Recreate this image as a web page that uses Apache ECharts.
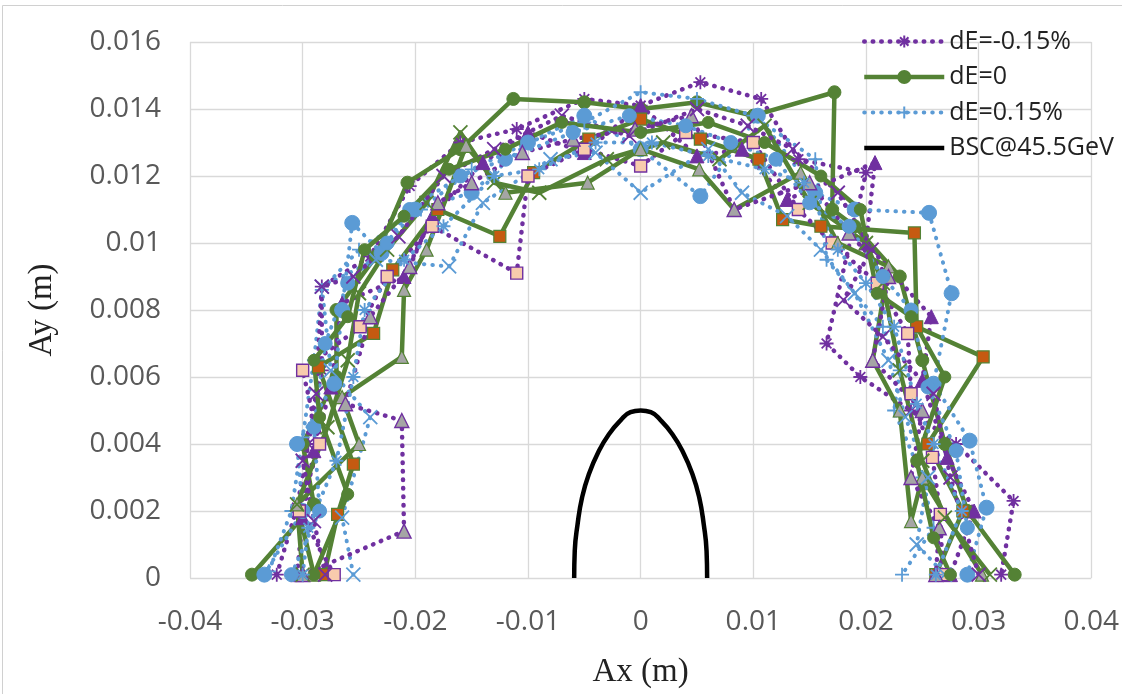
<!DOCTYPE html>
<html>
<head>
<meta charset="utf-8">
<script src="https://cdn.jsdelivr.net/npm/echarts@6/dist/echarts.min.js"></script>
<style>html,body{margin:0;padding:0;background:#fff}#c{width:1122px;height:694px}</style>
</head>
<body>
<div id="c"></div>
<script>
// ---- data (Ax, Ay in metres) ----
const xTicks = [-0.04, -0.03, -0.02, -0.01, 0, 0.01, 0.02, 0.03, 0.04];
const yTicks = [0, 0.002, 0.004, 0.006, 0.008, 0.01, 0.012, 0.014, 0.016];
const legendNames = ['dE=-0.15%', 'dE=0', 'dE=0.15%', 'BSC@45.5GeV'];

// dE = -0.15 %
const dEm_a = [[-0.0323,0.0001],[-0.0305,0.0021],[-0.0295,0.0040],[-0.0283,0.0062],[-0.0283,0.0087],[-0.0240,0.0096],[-0.0205,0.0117],[-0.0160,0.0130],[-0.0110,0.0134],[-0.0050,0.0143],[0,0.0141],[0.0053,0.0148],[0.0107,0.0143],[0.0140,0.0125],[0.0200,0.0121],[0.0165,0.0070],[0.0195,0.0060],[0.0240,0.0050],[0.0280,0.0040],[0.0331,0.0023],[0.0320,0.0001]];
const dEm_b = [[-0.0305,0.0001],[-0.0300,0.0018],[-0.0290,0.0038],[-0.0275,0.0057],[-0.0265,0.0082],[-0.0210,0.0090],[-0.0185,0.0108],[-0.0140,0.0124],[-0.0100,0.0133],[-0.0050,0.0127],[0,0.0141],[0.0050,0.0126],[0.0090,0.0128],[0.0130,0.0113],[0.0208,0.0124],[0.0200,0.0100],[0.0258,0.0078],[0.0250,0.0059],[0.0272,0.0036],[0.0296,0.0020],[0.0275,0.0001]];
const dEm_c = [[-0.0272,0.0001],[-0.0303,0.0020],[-0.0285,0.0040],[-0.0300,0.0062],[-0.0249,0.0075],[-0.0225,0.0090],[-0.0185,0.0105],[-0.0110,0.0091],[-0.0100,0.0120],[-0.0050,0.0128],[0,0.0123],[0.0040,0.0133],[0.0100,0.0130],[0.0140,0.0110],[0.0170,0.0100],[0.0210,0.0088],[0.0237,0.0073],[0.0240,0.0055],[0.0259,0.0036],[0.0266,0.0019],[0.0268,0.0001]];
const dEm_d = [[-0.0300,0.0001],[-0.0210,0.0014],[-0.0212,0.0047],[-0.0262,0.0052],[-0.0240,0.0078],[-0.0205,0.0093],[-0.0180,0.0112],[-0.0150,0.0118],[-0.0105,0.0127],[-0.0060,0.0131],[-0.0005,0.0134],[0.0045,0.0138],[0.0083,0.0110],[0.0150,0.0118],[0.0185,0.0103],[0.0220,0.0090],[0.0206,0.0065],[0.0250,0.0050],[0.0240,0.0030],[0.0265,0.0015],[0.0262,0.0001]];
const dEm_e = [[-0.0280,0.0001],[-0.0290,0.0017],[-0.0300,0.0035],[-0.0288,0.0055],[-0.0283,0.0087],[-0.0255,0.0090],[-0.0215,0.0102],[-0.0175,0.0120],[-0.0130,0.0128],[-0.0070,0.0138],[-0.0010,0.0132],[0.0050,0.0140],[0.0095,0.0135],[0.0135,0.0128],[0.0175,0.0115],[0.0205,0.0098],[0.0180,0.0083],[0.0215,0.0072],[0.0260,0.0055],[0.0275,0.0030],[0.0300,0.0001]];

// dE = 0
const dE0_a = [[-0.0345,0.0001],[-0.0290,0.0022],[-0.0300,0.0040],[-0.0270,0.0060],[-0.0270,0.0080],[-0.0235,0.0096],[-0.0207,0.0118],[-0.0160,0.0128],[-0.0113,0.0143],[-0.0050,0.0142],[0,0.0140],[0.0050,0.0142],[0.0100,0.0138],[0.0172,0.0145],[0.0170,0.0110],[0.0190,0.0105],[0.0230,0.0090],[0.0250,0.0065],[0.0270,0.0040],[0.0290,0.0020],[0.0332,0.0001]];
const dE0_b = [[-0.0281,0.0001],[-0.0269,0.0019],[-0.0255,0.0034],[-0.0286,0.0063],[-0.0237,0.0073],[-0.0220,0.0092],[-0.0180,0.0110],[-0.0125,0.0102],[-0.0095,0.0121],[-0.0046,0.0131],[0,0.0137],[0.0053,0.0131],[0.0105,0.0125],[0.0126,0.0107],[0.0160,0.0105],[0.0243,0.0103],[0.0245,0.0075],[0.0304,0.0066],[0.0255,0.0040],[0.0286,0.0020],[0.0262,0.0001]];
const dE0_c = [[-0.0290,0.0001],[-0.0305,0.0022],[-0.0250,0.0040],[-0.0265,0.0054],[-0.0212,0.0066],[-0.0210,0.0086],[-0.0190,0.0098],[-0.0155,0.0129],[-0.0120,0.0115],[-0.0047,0.0118],[0,0.0128],[0.0052,0.0122],[0.0083,0.0110],[0.0142,0.0121],[0.0175,0.0100],[0.0220,0.0093],[0.0206,0.0065],[0.0230,0.0050],[0.0240,0.0017],[0.0250,0.0030],[0.0303,0.0001]];
const dE0_d = [[-0.0300,0.0001],[-0.0305,0.0022],[-0.0278,0.0045],[-0.0260,0.0065],[-0.0250,0.0085],[-0.0225,0.0098],[-0.0190,0.0112],[-0.0160,0.0133],[-0.0130,0.0118],[-0.0090,0.0115],[-0.0030,0.0125],[0.0020,0.0130],[0.0070,0.0125],[0.0110,0.0135],[0.0150,0.0112],[0.0200,0.0100],[0.0215,0.0088],[0.0230,0.0062],[0.0250,0.0035],[0.0270,0.0018],[0.0310,0.0001]];
const dE0_e = [[-0.0290,0.0001],[-0.0260,0.0025],[-0.0285,0.0048],[-0.0290,0.0065],[-0.0260,0.0078],[-0.0245,0.0098],[-0.0210,0.0108],[-0.0170,0.0122],[-0.0120,0.0128],[-0.0070,0.0136],[0,0.0133],[0.0060,0.0136],[0.0110,0.0130],[0.0160,0.0120],[0.0195,0.0110],[0.0210,0.0085],[0.0240,0.0078],[0.0270,0.0060],[0.0245,0.0035],[0.0260,0.0012],[0.0275,0.0001]];

// dE = +0.15 %
const dEp_a = [[-0.0330,0.0002],[-0.0310,0.0020],[-0.0300,0.0042],[-0.0290,0.0065],[-0.0283,0.0086],[-0.0250,0.0098],[-0.0195,0.0110],[-0.0150,0.0122],[-0.0100,0.0130],[-0.0050,0.0136],[0,0.0145],[0.0050,0.0143],[0.0100,0.0138],[0.0155,0.0125],[0.0165,0.0095],[0.0215,0.0075],[0.0230,0.0062],[0.0225,0.0050],[0.0250,0.0030],[0.0260,0.0015],[0.0232,0.0001]];
const dEp_b = [[-0.0334,0.0001],[-0.0300,0.0020],[-0.0305,0.0040],[-0.0272,0.0058],[-0.0265,0.0080],[-0.0256,0.0106],[-0.0230,0.0097],[-0.0200,0.0110],[-0.0150,0.0115],[-0.0100,0.0130],[-0.0050,0.0138],[0,0.0128],[0.0053,0.0114],[0.0104,0.0138],[0.0155,0.0115],[0.0190,0.0110],[0.0256,0.0109],[0.0276,0.0085],[0.0260,0.0058],[0.0292,0.0041],[0.0307,0.0021],[0.0290,0.0001]];
const dEp_c = [[-0.0255,0.0001],[-0.0265,0.0018],[-0.0240,0.0048],[-0.0275,0.0062],[-0.0283,0.0087],[-0.0235,0.0095],[-0.0170,0.0093],[-0.0140,0.0112],[-0.0080,0.0125],[-0.0040,0.0127],[0,0.0115],[0.0060,0.0128],[0.0090,0.0115],[0.0130,0.0108],[0.0160,0.0098],[0.0190,0.0085],[0.0220,0.0065],[0.0235,0.0048],[0.0255,0.0030],[0.0245,0.0010],[0.0270,0.0001]];
const dEp_d = [[-0.0310,0.0001],[-0.0285,0.0020],[-0.0290,0.0045],[-0.0280,0.0070],[-0.0260,0.0088],[-0.0225,0.0100],[-0.0205,0.0110],[-0.0160,0.0120],[-0.0120,0.0125],[-0.0060,0.0133],[-0.0010,0.0138],[0.0040,0.0135],[0.0080,0.0130],[0.0120,0.0125],[0.0150,0.0112],[0.0185,0.0105],[0.0215,0.0090],[0.0240,0.0080],[0.0255,0.0057],[0.0280,0.0038],[0.0290,0.0015]];
const dEp_e = [[-0.0300,0.0001],[-0.0295,0.0015],[-0.0270,0.0035],[-0.0255,0.0060],[-0.0245,0.0080],[-0.0210,0.0095],[-0.0175,0.0105],[-0.0130,0.0120],[-0.0090,0.0122],[-0.0040,0.0130],[0.0010,0.0130],[0.0060,0.0126],[0.0110,0.0122],[0.0145,0.0118],[0.0175,0.0098],[0.0200,0.0088],[0.0225,0.0075],[0.0245,0.0052],[0.0260,0.0040],[0.0285,0.0020],[0.0262,0.0001]];

const bsc = [[-0.0059,0],[-0.00585,0.0008],[-0.0056,0.0016],[-0.0052,0.0024],[-0.0046,0.0031],[-0.0037,0.0038],[-0.0028,0.0043],[-0.0018,0.0047],[-0.0009,0.00495],[0,0.0050],[0.0009,0.00495],[0.0018,0.0047],[0.0028,0.0043],[0.0037,0.0038],[0.0046,0.0031],[0.0052,0.0024],[0.0056,0.0016],[0.00585,0.0008],[0.0059,0]];

// ---- styles ----
const PURPLE = '#7030a0', GREEN = '#548235', BLUE = '#5b9bd5', BROWN = '#c55a11', PINK = '#f8cbad', GRAY = '#a5a5a5';
const ASTER = 'path://M0,5L10,5M5,0L5,10M1.5,1.5L8.5,8.5M8.5,1.5L1.5,8.5';
const PLUS = 'path://M5,0L5,10M0,5L10,5';
const CROSS = 'path://M0,0L10,10M10,0L0,10';
const NONE = 'rgba(0,0,0,0)';

function ser(name, data, line, symbol, size, item) {
  return {
    name: name, type: 'line', data: data, symbol: symbol, symbolSize: size,
    lineStyle: Object.assign({}, line), itemStyle: item, showSymbol: true,
    emphasis: {disabled: true}, animation: false, clip: false, z: 2
  };
}
const purpleLine = {color: PURPLE, type: [0.5, 8], cap: 'round', width: 4.5};
const blueLine = {color: BLUE, type: [0.5, 8], cap: 'round', width: 4};
const greenLine = {color: GREEN, width: 4.5, type: 'solid', join: 'round'};

const series = [
  ser('dE=-0.15%', dEm_a, purpleLine, ASTER, 14, {color: NONE, borderColor: PURPLE, borderWidth: 1.8}),
  ser('dE=0', dE0_a, greenLine, 'circle', 13, {color: GREEN, borderColor: GREEN, borderWidth: 1}),
  ser('dE=0.15%', dEp_a, blueLine, PLUS, 14, {color: NONE, borderColor: BLUE, borderWidth: 1.8}),
  {name: 'BSC@45.5GeV', type: 'line', data: bsc, smooth: true, symbol: 'none', lineStyle: {color: '#000', width: 4.5}, itemStyle: {color: '#000'}, emphasis: {disabled: true}, animation: false, z: 2},
  ser('s5', dEm_b, purpleLine, 'triangle', 14, {color: PURPLE, borderColor: PURPLE, borderWidth: 1}),
  ser('s6', dE0_b, greenLine, 'rect', 12, {color: BROWN, borderColor: GREEN, borderWidth: 1.2}),
  ser('s7', dEp_b, blueLine, 'circle', 15, {color: BLUE, borderColor: BLUE, borderWidth: 1}),
  ser('s8', dEm_c, purpleLine, 'rect', 12, {color: PINK, borderColor: PURPLE, borderWidth: 1.4}),
  ser('s9', dE0_c, greenLine, 'triangle', 13, {color: GRAY, borderColor: GREEN, borderWidth: 1.2}),
  ser('s10', dEp_c, blueLine, CROSS, 14, {color: NONE, borderColor: BLUE, borderWidth: 1.8}),
  ser('s11', dEm_d, purpleLine, 'triangle', 14, {color: GRAY, borderColor: PURPLE, borderWidth: 1.4}),
  ser('s12', dE0_d, greenLine, CROSS, 14, {color: NONE, borderColor: GREEN, borderWidth: 1.8}),
  ser('s13', dEp_d, blueLine, 'circle', 14, {color: BLUE, borderColor: BLUE, borderWidth: 1}),
  ser('s14', dEm_e, purpleLine, CROSS, 14, {color: NONE, borderColor: PURPLE, borderWidth: 1.8}),
  ser('s15', dE0_e, greenLine, 'circle', 12, {color: GREEN, borderColor: GREEN, borderWidth: 1}),
  ser('s16', dEp_e, blueLine, ASTER, 14, {color: NONE, borderColor: BLUE, borderWidth: 1.8})
];

const legendData = legendNames.map((n, i) => i === 3 ? {name: n, itemStyle: {opacity: 0}} : {name: n});

const chart = echarts.init(document.getElementById('c'), null, {renderer: 'canvas'});
chart.setOption({
  backgroundColor: '#fff',
  animation: false,
  graphic: [{type: 'rect', shape: {x: 2.5, y: 5.5, width: 1130, height: 700}, style: {fill: 'none', stroke: '#d0d0d0', lineWidth: 1}, silent: true}],
  grid: {left: 190, right: 29, top: 42, bottom: 113, containLabel: false},
  legend: {
    data: legendData, orient: 'vertical', left: 857, top: 24,
    itemWidth: 80, itemHeight: 15, itemGap: 10.5,
    lineStyle: {width: 'inherit'},
    textStyle: {fontFamily: 'Open Sans', fontSize: 25, color: '#222', lineHeight: 24, padding: [0, 0, 0, 0]},
    selectedMode: false, inactiveColor: '#222'
  },
  xAxis: {
    type: 'value', min: -0.04, max: 0.04, interval: 0.01,
    name: 'Ax (m)', nameLocation: 'middle', nameGap: 78,
    nameTextStyle: {fontFamily: 'Liberation Serif', fontSize: 33, color: '#222'},
    axisLine: {show: false}, axisTick: {show: false},
    axisLabel: {fontFamily: 'Open Sans', fontSize: 28, color: '#595959', margin: 30,
      formatter: v => { const t = xTicks.find(a => Math.abs(a - v) < 1e-9); return t === undefined ? '' : String(t); }},
    splitLine: {show: true, lineStyle: {color: '#d9d9d9', width: 1.3}}
  },
  yAxis: {
    type: 'value', min: 0, max: 0.016, interval: 0.002,
    name: 'Ay (m)', nameLocation: 'middle', nameGap: 131,
    nameTextStyle: {fontFamily: 'Liberation Serif', fontSize: 33, color: '#222'},
    axisLine: {show: false}, axisTick: {show: false},
    axisLabel: {fontFamily: 'Open Sans', fontSize: 28, color: '#595959', margin: 29,
      formatter: v => { const t = yTicks.find(a => Math.abs(a - v) < 1e-9); return t === undefined ? '' : String(t); }},
    splitLine: {show: true, lineStyle: {color: '#d9d9d9', width: 1.3}}
  },
  series: series
});
</script>
</body>
</html>
